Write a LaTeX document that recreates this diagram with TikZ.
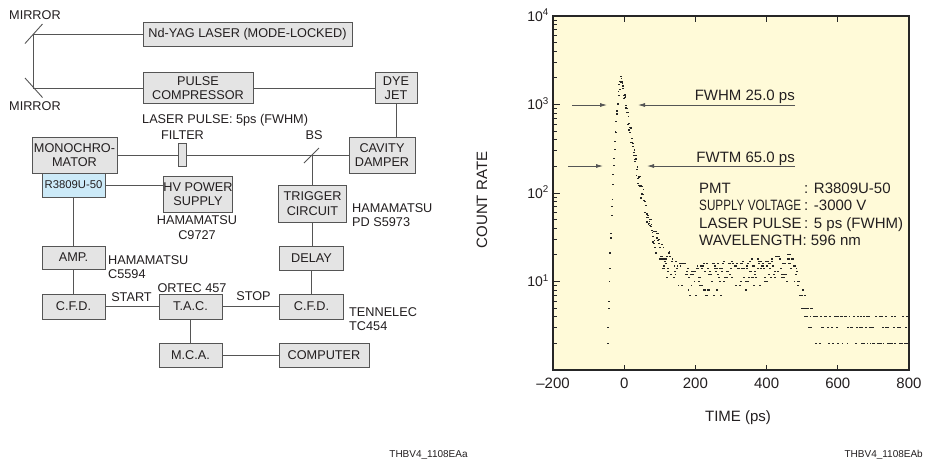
\documentclass[tikz,border=0pt]{standalone}
\usepackage{fontspec}
\setmainfont{Liberation Sans}
\usepackage{graphicx}
\usetikzlibrary{arrows.meta}
\definecolor{boxfill}{RGB}{228,228,228}
\definecolor{pmtfill}{RGB}{204,234,248}
\definecolor{plotbg}{RGB}{255,250,216}
\definecolor{linec}{RGB}{85,85,85}
\definecolor{txt}{RGB}{35,31,32}
\newcommand\dfont{\fontsize{12.7}{14.5}\selectfont}
\newcommand\pfont{\fontsize{15}{17}\selectfont}
\begin{document}
\begin{tikzpicture}[x=1pt,y=-1pt,
  blk/.style={draw=linec, line width=0.9pt, fill=boxfill, inner sep=0pt, align=center, font=\dfont, text=txt},
  wire/.style={draw=linec, line width=0.9pt},
  lbl/.style={font=\dfont, text=txt, inner sep=0pt, align=left},
  plbl/.style={font=\pfont, text=txt, inner sep=0pt},
  dotc/.style={fill=black!85},
  marker/.style={draw=linec, line width=0.8pt, -{Latex[length=7pt,width=4pt]}},
  tickl/.style={draw=black!85, line width=0.8pt}
]
\useasboundingbox (0,0) rectangle (929,464);
\fill[white] (0,0) rectangle (929,464);

% ---------------- block diagram ----------------
\node[blk, minimum width=209pt, minimum height=24pt] (nd) at (247.5,34) {Nd-YAG LASER (MODE-LOCKED)};
\node[blk, minimum width=110pt, minimum height=31pt] (pc) at (198,88) {PULSE\\COMPRESSOR};
\node[blk, minimum width=42pt, minimum height=31pt] (dye) at (396,88) {DYE\\JET};
\node[blk, minimum width=85pt, minimum height=36pt] (mono) at (74.5,155) {MONOCHRO-\\MATOR};
\node[blk, minimum width=66pt, minimum height=36pt] (cav) at (382,155) {CAVITY\\DAMPER};
\node[blk, fill=pmtfill, minimum width=63pt, minimum height=24pt, font=\fontsize{11.3}{13}\selectfont] (pmt) at (73.5,185) {R3809U-50};
\node[blk, minimum width=68pt, minimum height=36pt] (hv) at (198,194) {HV POWER\\SUPPLY};
\node[blk, minimum width=68pt, minimum height=37pt] (trig) at (312.5,203.5) {TRIGGER\\CIRCUIT};
\node[blk, minimum width=63pt, minimum height=23pt] (amp) at (73.5,257.5) {AMP.};
\node[blk, minimum width=64pt, minimum height=24pt] (delay) at (311.5,258) {DELAY};
\node[blk, minimum width=63pt, minimum height=25pt] (cfd1) at (73.5,306.5) {C.F.D.};
\node[blk, minimum width=63pt, minimum height=25pt] (tac) at (190.5,306.5) {T.A.C.};
\node[blk, minimum width=64pt, minimum height=25pt] (cfd2) at (311.5,306.5) {C.F.D.};
\node[blk, minimum width=63pt, minimum height=24pt] (mca) at (190.5,355) {M.C.A.};
\node[blk, minimum width=90pt, minimum height=24pt] (comp) at (324,355) {COMPUTER};

% mirrors and beam
\coordinate (m1) at (33.5,34);
\coordinate (m2) at (33.5,88);
\coordinate (bs) at (312,155);
\draw[wire] (nd.west) -- (m1) -- (m2) -- (pc.west);
\draw[wire] (25,43.5) -- (42.5,24);
\draw[wire] (25,78) -- (42.5,97.5);
\draw[wire] (pc.east) -- (dye.west);
\draw[wire] (dye.south) -- (dye.south |- cav.north);
\draw[wire] (cav.west) -- (mono.east);
\node[draw=linec, line width=0.9pt, fill=boxfill, minimum width=8pt, minimum height=23pt, inner sep=0pt] (filt) at (182,154.5) {};
\draw[wire] (304,163) -- (319,148);
\draw[wire] (bs) -- (bs |- trig.north);
\draw[wire] (pmt.east) -- (pmt.east -| hv.west);
\draw[wire] (pmt.south) -- (pmt.south |- amp.north);
\draw[wire] (amp.south) -- (amp.south |- cfd1.north);
\draw[wire] (cfd1.east) -- (tac.west);
\draw[wire] (tac.east) -- (cfd2.west);
\draw[wire] (tac.south) -- (tac.south |- mca.north);
\draw[wire] (mca.east) -- (comp.west);
\draw[wire] (trig.south) -- (trig.south |- delay.north);
\draw[wire] (delay.south) -- (delay.south |- cfd2.north);

% labels
\node[lbl, anchor=west] (mirA) at (9,15) {MIRROR};
\node[lbl, anchor=west] (mirB) at (9,106) {MIRROR};
\node[lbl, anchor=west] (lp) at (142,120) {LASER PULSE: 5ps (FWHM)};
\node[lbl] (filtl) at (182.5,135) {FILTER};
\node[lbl] (bsl) at (314,135) {BS};
\node[lbl, align=center] (hvl) at (197,227.5) {HAMAMATSU\\C9727};
\node[lbl, anchor=west] (trl) at (352,215) {HAMAMATSU\\PD S5973};
\node[lbl, anchor=west] (ampl) at (108,267) {HAMAMATSU\\C5594};
\node[lbl] (startl) at (131.5,297) {START};
\node[lbl] (ortl) at (192,288) {ORTEC 457};
\node[lbl] (stopl) at (253.5,296) {STOP};
\node[lbl, anchor=west] (tenl) at (349,319) {TENNELEC\\TC454};
\node[font=\fontsize{10}{12}\selectfont, text=txt, inner sep=0pt] (ida) at (428.5,455) {THBV4\_1108EAa};

% ---------------- plot ----------------
\fill[plotbg] (553,16) rectangle (909,370);
% left ticks
\foreach \d in {0,1,2,3}{
  \foreach \k in {2,...,9}{
    \draw[tickl] (553,{370-88.5*(\d+log10(\k))}) -- +(4,0);
  }
}
\foreach \d in {1,2,3}{
  \draw[tickl] (553,{370-88.5*\d}) -- +(7,0);
}
% top and bottom ticks
\foreach \v in {0,200,400,600}{
  \draw[tickl] ({624.2+0.356*\v},16) -- +(0,6);
  \draw[tickl] ({624.2+0.356*\v},370) -- +(0,-5);
}

% data dots
\pgfmathsetseed{7}
\foreach \t in {-46,-44.8,...,-6}{
  \pgfmathsetmacro\c{round(1900*exp(-((\t+6)*(\t+6))/235)*(1+0.15*rand))}
  \ifdim\c pt>1.5pt
    \fill[dotc] ({624.2+0.356*\t-0.9},{370-38.435*ln(\c)-0.6}) rectangle +(1.8,1.2);
  \fi
}
\foreach \t in {-4.8,-3.6,...,130}{
  \pgfmathsetmacro\m{1900*(0.8*exp(-(\t+6)/14)+0.2*exp(-(\t+6)/32))+10}
  \pgfmathsetmacro\c{round(\m+(0.13*\m+sqrt(\m))*rand)}
  \ifdim\c pt>1.5pt
    \fill[dotc] ({624.2+0.356*\t-0.9},{370-38.435*ln(\c)-0.6}) rectangle +(1.8,1.2);
  \fi
}
\foreach \t in {131.4,132.8,...,480}{
  \pgfmathsetmacro\m{9.5+6*(\t-130)/350+380*exp(-(\t+6)/32)}
  \pgfmathsetmacro\c{round(\m+1.35*sqrt(\m)*rand)}
  \pgfmathsetmacro\s{rnd}
  \ifdim\s pt>0.25pt
  \ifdim\c pt>1.5pt
    \fill[dotc] ({624.2+0.356*\t-0.9},{370-38.435*ln(\c)-0.6}) rectangle +(1.8,1.2);
  \fi\fi
}
\foreach \t in {481.4,482.8,...,528}{
  \pgfmathsetmacro\m{2.8+12.5*exp(-0.06*(\t-480))}
  \pgfmathsetmacro\c{round(\m+0.8*sqrt(\m)*rand)}
  \ifdim\c pt>1.5pt
    \fill[dotc] ({624.2+0.356*\t-0.9},{370-38.435*ln(\c)-0.6}) rectangle +(1.8,1.2);
  \fi
}
\foreach \t in {529.4,530.8,...,798}{
  \pgfmathsetmacro\c{round(2.6+1.9*rand)}
  \pgfmathsetmacro\s{rnd}
  \ifdim\s pt>0.35pt
  \ifdim\c pt>1.5pt
    \fill[dotc] ({624.2+0.356*\t-0.9},{370-38.435*ln(\c)-0.6}) rectangle +(1.8,1.2);
  \fi\fi
}

% frame
\draw[draw=black!85, line width=1.8pt] (553,16) rectangle (909,370);

% axis labels
\foreach \d/\yy in {4/16,3/104.5,2/193,1/281.5}{
  \node[font=\fontsize{14}{16}\selectfont, text=txt, inner sep=0pt, anchor=base east] at (549,\yy+5) {10\textsuperscript{\d}};
}
\foreach \v/\s in {-200/{–200},0/0,200/200,400/400,600/600,800/800}{
  \node[plbl, anchor=base] at ({624.2+0.356*\v},388.5) {\s};
}
\node[plbl] (xlab) at (738,418) {TIME (ps)};
\node[plbl, rotate=90] (ylab) at (482,200) {COUNT RATE};
\node[font=\fontsize{10}{12}\selectfont, text=txt, inner sep=0pt, anchor=east] (idb) at (923,455) {THBV4\_1108EAb};

% FWHM / FWTM markers
\coordinate (h1) at (572,105);
\coordinate (h1t) at (607,105);
\coordinate (h2) at (795,105);
\coordinate (h2t) at (638,105);
\coordinate (w1) at (568,166);
\coordinate (w1t) at (603,166);
\coordinate (w2) at (795,166);
\coordinate (w2t) at (647,166);
\draw[marker] (h1) -- (h1t);
\draw[marker] (h2) -- (h2t);
\draw[marker] (w1) -- (w1t);
\draw[marker] (w2) -- (w2t);
\node[plbl, anchor=base east] (fwhm) at (795,100.5) {FWHM 25.0 ps};
\node[plbl, anchor=base east] (fwtm) at (795,162) {FWTM 65.0 ps};

% info block
\node[plbl, anchor=base west] (i1) at (699,193) {PMT};
\node[plbl, anchor=base west] (i1v) at (804,193) {: R3809U-50};
\node[plbl, anchor=base west] (i2) at (699,210.5) {\scalebox{0.78}[1]{SUPPLY VOLTAGE}};
\node[plbl, anchor=base west] (i2v) at (804,210.5) {: -3000 V};
\node[plbl, anchor=base west] (i3) at (699,228) {LASER PULSE};
\node[plbl, anchor=base west] (i3v) at (804,228) {: 5 ps (FWHM)};
\node[plbl, anchor=base west] (i4) at (699,245.5) {WAVELENGTH: 596 nm};
\end{tikzpicture}
\end{document}
